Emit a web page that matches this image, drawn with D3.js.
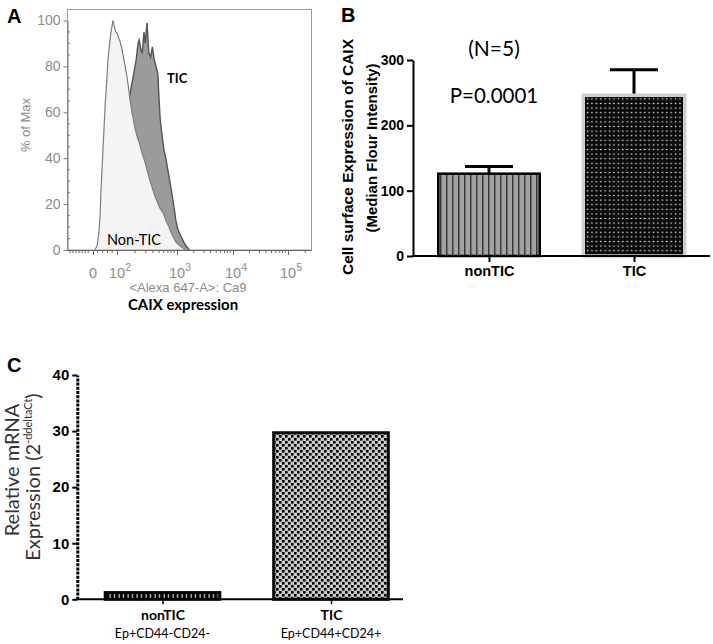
<!DOCTYPE html>
<html><head><meta charset="utf-8">
<script src="https://cdn.jsdelivr.net/npm/d3@7"></script>
<style>body{margin:0;background:#fff} svg{display:block}</style>
</head><body>
<svg id="chart" width="713" height="644"></svg>
<script>
// ---------- Panel A: flow histogram (x in log10 display units, 1.6 = "0") ----------
const nonTicU   = [1.63,1.67,1.70,1.72,1.73,1.75,1.77,1.78,1.80,1.82,1.83,1.85,1.87,1.88,1.90,1.92,1.93,1.95,1.97,1.98,2.00,2.02,2.05,2.08,2.10,2.13,2.17,2.20,2.22,2.25,2.30,2.33,2.38,2.42,2.47,2.50,2.53,2.57,2.60,2.64,2.68,2.72,2.77,2.80,2.83,2.86,2.88,2.92,2.95,2.98,3.02,3.07,3.12,3.16];
const nonTicPct = [0,2,8,16,24,35,46,51,62,70,74,83,88,91,95,98,100,98,96,95,94.5,93,91,88,85,81,75,69,65,60,53,50,46,42,38,35,32,28.5,26,23,20.5,18,16,14,12,10.5,9,6.5,5,3.5,2.5,1.5,0.6,0];
const ticU      = [1.72,1.78,1.85,1.92,1.98,2.05,2.12,2.18,2.23,2.28,2.32,2.35,2.37,2.40,2.42,2.45,2.47,2.50,2.53,2.56,2.59,2.62,2.65,2.68,2.70,2.72,2.75,2.78,2.82,2.86,2.90,2.93,2.96,2.98,3.01,3.05,3.10,3.14,3.18,3.23];
const ticPct    = [0,7,19,31,40,47,55,62,70,77,83,90,91.5,87,86,95,90,99,86,84,88.5,83,80,77,66,57,50,44,39,33,27,22,17,13,9.5,7,4.5,2.5,1.2,0];
const aMajorTicks  = [1.6, 2, 3, 4, 5];
const aMajorBase   = ["0", "10", "10", "10", "10"];
const aMajorExp    = ["", "2", "3", "4", "5"];
const aMinorTicks  = [1.22,1.27,1.32,1.37,1.42,1.47,1.52,1.68,1.76,1.84,1.92,
                      2.30,2.48,2.60,2.70,2.78,2.85,2.90,2.95,
                      3.30,3.48,3.60,3.70,3.78,3.85,3.90,3.95,
                      4.30,4.48,4.60,4.70,4.78,4.85,4.90,4.95,5.30];
const aYTicks      = [0, 20, 40, 60, 80, 100];
const aYMinorTicks = [5,10,15,25,30,35,45,50,55,65,70,75,85,90,95];

// ---------- Panel B ----------
const bCategories = ["nonTIC", "TIC"];
const bMeans  = [126, 246];
const bErrors = [11, 39];
const bTicks  = [0, 100, 200, 300];

// ---------- Panel C ----------
const cCategories = ["nonTIC", "TIC"];
const cSubLabels  = ["Ep+CD44-CD24-", "Ep+CD44+CD24+"];
const cValues     = [1.2, 29.7];
const cTicks      = [0, 10, 20, 30, 40];

const svg = d3.select("#chart");
const ARIAL = "'Liberation Sans', Arial, sans-serif";
const HUMAN = "Lato, 'Open Sans', sans-serif";
const defs = svg.append("defs");

// ================= Panel A =================
const xA = d3.scaleLinear().domain([1.17,1.6,2,3,4,5,5.4]).range([67,93,117,177,233,288,311]);
const yA = d3.scaleLinear().domain([0,100]).range([250,20.5]);
const gA = svg.append("g");

gA.append("text").attr("x",7).attr("y",23).text("A")
  .attr("font-family",ARIAL).attr("font-weight","bold").attr("font-size",20);

const areaA = (us, ps) => d3.area().x((d,i)=>xA(us[i])).y0(yA(0)).y1((d,i)=>yA(ps[i]))(us);
const lineA = (us, ps) => d3.line().x((d,i)=>xA(us[i])).y((d,i)=>yA(ps[i]))(us);

gA.append("path").attr("d", areaA(ticU, ticPct)).attr("fill","#9b9b9b");
gA.append("path").attr("d", lineA(ticU, ticPct)).attr("fill","none").attr("stroke","#555").attr("stroke-width",1.4);
gA.append("path").attr("d", areaA(nonTicU, nonTicPct)).attr("fill","#f4f4f4");
gA.append("path").attr("d", lineA(nonTicU, nonTicPct)).attr("fill","none").attr("stroke","#7d7d7d").attr("stroke-width",1.2);

// frame
gA.append("rect").attr("x",67.5).attr("y",9.5).attr("width",244).attr("height",240.5)
  .attr("fill","none").attr("stroke","#9a9a9a").attr("stroke-width",1);

// y axis
const yAxA = d3.axisLeft(yA).tickValues(aYTicks).tickSize(4).tickSizeOuter(0).tickPadding(3);
const gyA = gA.append("g").attr("transform","translate(67.5,0)").call(yAxA);
gyA.select(".domain").attr("stroke","#777");
gyA.selectAll(".tick line").attr("stroke","#777");
gyA.selectAll(".tick text").attr("fill","#8c8c8c").attr("font-family",ARIAL).attr("font-size",14);
gA.append("g").selectAll("line").data(aYMinorTicks).join("line")
  .attr("x1",67.5).attr("x2",70).attr("y1",d=>yA(d)).attr("y2",d=>yA(d)).attr("stroke","#777");

// x axis
const xAxA = d3.axisBottom(xA).tickValues(aMajorTicks).tickSize(5).tickSizeOuter(0).tickFormat("");
const gxA = gA.append("g").attr("transform","translate(0,250)").call(xAxA);
gxA.select(".domain").attr("stroke","#666");
gxA.selectAll(".tick line").attr("stroke","#666");
gA.append("g").selectAll("line").data(aMinorTicks).join("line")
  .attr("x1",d=>xA(d)).attr("x2",d=>xA(d)).attr("y1",250).attr("y2",253).attr("stroke","#666");
const xlab = gA.append("g").selectAll("text").data(aMajorTicks).join("text")
  .attr("x",(d,i)=>xA(d) + (i? 3:0)).attr("y",278).attr("text-anchor","middle")
  .attr("fill","#8c8c8c").attr("font-family",ARIAL).attr("font-size",14.5);
xlab.append("tspan").text((d,i)=>aMajorBase[i]);
xlab.append("tspan").attr("dy",-7).attr("font-size",10.5).text((d,i)=>aMajorExp[i]);

gA.append("text").attr("transform","translate(30,125) rotate(-90)").attr("text-anchor","middle")
  .attr("fill","#8c8c8c").attr("font-family",ARIAL).attr("font-size",13).text("% of Max");
gA.append("text").attr("x",188).attr("y",292).attr("text-anchor","middle")
  .attr("fill","#8c8c8c").attr("font-family",ARIAL).attr("font-size",13).text("<Alexa 647-A>: Ca9");
gA.append("text").attr("x",183).attr("y",310).attr("text-anchor","middle")
  .attr("font-family",HUMAN).attr("font-weight","bold").attr("font-size",15).text("CAIX expression");
gA.append("text").attr("x",167).attr("y",83).attr("font-family",HUMAN).attr("font-weight","bold")
  .attr("font-size",13).text("TIC");
gA.append("text").attr("x",107).attr("y",245).attr("font-family",HUMAN)
  .attr("font-size",14.5).text("Non-TIC");

// ================= Panel B =================
const xB = d3.scalePoint().domain(bCategories).range([489,634]);
const bwB = 0.7 * (xB(bCategories[1]) - xB(bCategories[0]));
const yB = d3.scaleLinear().domain([0,300]).range([256,60]);
const gB = svg.append("g");

gB.append("text").attr("x",341).attr("y",22).text("B")
  .attr("font-family",ARIAL).attr("font-weight","bold").attr("font-size",20);

// patterns
const p1 = defs.append("pattern").attr("id","pB1").attr("patternUnits","userSpaceOnUse")
  .attr("width",6).attr("height",10).attr("x",xB("nonTIC")-bwB/2+2);
p1.append("rect").attr("width",6).attr("height",10).attr("fill","#a3a3a3");
p1.append("rect").attr("x",0).attr("width",1.1).attr("height",10).attr("fill","#111");
const p2 = defs.append("pattern").attr("id","pB2").attr("patternUnits","userSpaceOnUse")
  .attr("width",4.4).attr("height",4.6);
p2.append("rect").attr("width",4.4).attr("height",4.6).attr("fill","#0a0a0a");
p2.append("rect").attr("x",1.6).attr("y",1.7).attr("width",1.5).attr("height",1.2).attr("fill","#e8e8e8");

const bFills   = ["url(#pB1)","url(#pB2)"];
const bStrokes = ["#000","#cfcfcf"];
const bSW      = [2.5, 3.5];

// error bars (behind bars)
gB.append("g").selectAll("line").data(bCategories).join("line")
  .attr("x1",d=>xB(d)).attr("x2",d=>xB(d))
  .attr("y1",(d,i)=>yB(bMeans[i])).attr("y2",(d,i)=>yB(bMeans[i]+bErrors[i]))
  .attr("stroke","#000").attr("stroke-width",3);
gB.append("g").selectAll("line").data(bCategories).join("line")
  .attr("x1",d=>xB(d)-24).attr("x2",d=>xB(d)+24)
  .attr("y1",(d,i)=>yB(bMeans[i]+bErrors[i])).attr("y2",(d,i)=>yB(bMeans[i]+bErrors[i]))
  .attr("stroke","#000").attr("stroke-width",3);

gB.append("g").selectAll("rect").data(bCategories).join("rect")
  .attr("x",d=>xB(d)-bwB/2).attr("width",bwB)
  .attr("y",(d,i)=>yB(bMeans[i])).attr("height",(d,i)=>yB(0)-yB(bMeans[i]))
  .attr("fill",(d,i)=>bFills[i]).attr("stroke",(d,i)=>bStrokes[i]).attr("stroke-width",(d,i)=>bSW[i]);

// axes
const gyB = gB.append("g").attr("transform","translate(413,0)")
  .call(d3.axisLeft(yB).tickValues(bTicks).tickSize(6).tickSizeOuter(0).tickPadding(3));
gyB.select(".domain").attr("stroke","#000").attr("stroke-width",2);
gyB.selectAll(".tick line").attr("stroke","#000").attr("stroke-width",2);
gyB.selectAll(".tick text").attr("fill","#000").attr("font-family",ARIAL).attr("font-weight","bold").attr("font-size",14);

gB.append("line").attr("x1",412).attr("x2",710).attr("y1",yB(0)).attr("y2",yB(0))
  .attr("stroke","#000").attr("stroke-width",2);
const gxB = gB.append("g").attr("transform",`translate(0,${yB(0)})`)
  .call(d3.axisBottom(xB).tickSize(6).tickSizeOuter(0).tickPadding(4));
gxB.select(".domain").remove();
gxB.selectAll(".tick line").attr("stroke","#000").attr("stroke-width",2);
gxB.selectAll(".tick text").attr("fill","#000").attr("font-family",ARIAL).attr("font-weight","bold").attr("font-size",14.5);

gB.append("text").attr("transform","translate(347,157) rotate(-90)").attr("text-anchor","middle")
  .attr("dominant-baseline","central").attr("font-family",ARIAL).attr("font-weight","bold")
  .attr("font-size",15.5).text("Cell surface Expression of CAIX");
gB.append("text").attr("transform","translate(371.5,148) rotate(-90)").attr("text-anchor","middle")
  .attr("dominant-baseline","central").attr("font-family",ARIAL).attr("font-weight","bold")
  .attr("font-size",15).text("(Median Flour Intensity)");
gB.append("text").attr("x",494).attr("y",56).attr("text-anchor","middle")
  .attr("font-family",HUMAN).attr("font-size",21).text("(N=5)");
gB.append("text").attr("x",494).attr("y",103).attr("text-anchor","middle")
  .attr("font-family",HUMAN).attr("font-size",20.5).text("P=0.0001");

// ================= Panel C =================
const xC = d3.scalePoint().domain(cCategories).range([162.5,331]);
const bwC = 0.68 * (xC(cCategories[1]) - xC(cCategories[0]));
const yC = d3.scaleLinear().domain([0,40]).range([599.3,375]);
const gC = svg.append("g");

gC.append("text").attr("x",7).attr("y",372).text("C")
  .attr("font-family",ARIAL).attr("font-weight","bold").attr("font-size",20);

const p3 = defs.append("pattern").attr("id","pC2").attr("patternUnits","userSpaceOnUse")
  .attr("width",6).attr("height",6);
p3.append("rect").attr("width",6).attr("height",6).attr("fill","#c9c9c9");
p3.append("rect").attr("x",0).attr("y",0).attr("width",2.6).attr("height",2.6).attr("fill","#000");
p3.append("rect").attr("x",3).attr("y",3).attr("width",2.6).attr("height",2.6).attr("fill","#000");
const p4 = defs.append("pattern").attr("id","pC1").attr("patternUnits","userSpaceOnUse")
  .attr("width",4.5).attr("height",6);
p4.append("rect").attr("width",4.5).attr("height",6).attr("fill","#000");
p4.append("rect").attr("x",1.5).attr("y",0).attr("width",1.2).attr("height",6).attr("fill","#ddd");
const cFills = ["url(#pC1)","url(#pC2)"];

gC.append("g").selectAll("rect").data(cCategories).join("rect")
  .attr("x",d=>xC(d)-bwC/2).attr("width",bwC)
  .attr("y",(d,i)=>yC(cValues[i])).attr("height",(d,i)=>yC(0)-yC(cValues[i]))
  .attr("fill",(d,i)=>cFills[i]).attr("stroke","#000").attr("stroke-width",3);

const gyC = gC.append("g").attr("transform","translate(77.3,0)")
  .call(d3.axisLeft(yC).tickValues(cTicks).tickSize(5).tickSizeOuter(0).tickPadding(3));
gyC.select(".domain").attr("stroke","#000").attr("stroke-width",3).attr("stroke-dasharray","3,1.2");
gyC.selectAll(".tick line").attr("stroke","#000").attr("stroke-width",2);
gyC.selectAll(".tick text").attr("fill","#000").attr("font-family",ARIAL).attr("font-weight","bold").attr("font-size",15);

gC.append("line").attr("x1",76).attr("x2",403).attr("y1",yC(0)).attr("y2",yC(0))
  .attr("stroke","#000").attr("stroke-width",2);
const gxC = gC.append("g").attr("transform",`translate(0,${yC(0)})`)
  .call(d3.axisBottom(xC).tickSize(5).tickSizeOuter(0).tickPadding(6));
gxC.select(".domain").remove();
gxC.selectAll(".tick line").attr("stroke","#000").attr("stroke-width",1.5);
gxC.selectAll(".tick text").attr("fill","#000").attr("font-family",HUMAN).attr("font-weight","bold").attr("font-size",14);
gC.append("g").selectAll("text").data(cCategories).join("text")
  .attr("x",d=>xC(d)).attr("y",638).attr("text-anchor","middle")
  .attr("font-family",HUMAN).attr("font-size",12.5).text((d,i)=>cSubLabels[i]);

gC.append("text").attr("transform","translate(11,470) rotate(-90)").attr("text-anchor","middle")
  .attr("dominant-baseline","central").attr("fill","#333").attr("font-family",HUMAN)
  .attr("font-size",20).text("Relative mRNA");
const t2 = gC.append("text").attr("transform","translate(32,477) rotate(-90)").attr("text-anchor","middle")
  .attr("dominant-baseline","central").attr("fill","#333").attr("font-family",HUMAN).attr("font-size",20);
t2.append("tspan").text("Expression (2");
t2.append("tspan").attr("dy",-5).attr("font-size",11).text("-ddeltaCt");
t2.append("tspan").attr("dy",5).text(")");
</script>
</body></html>
